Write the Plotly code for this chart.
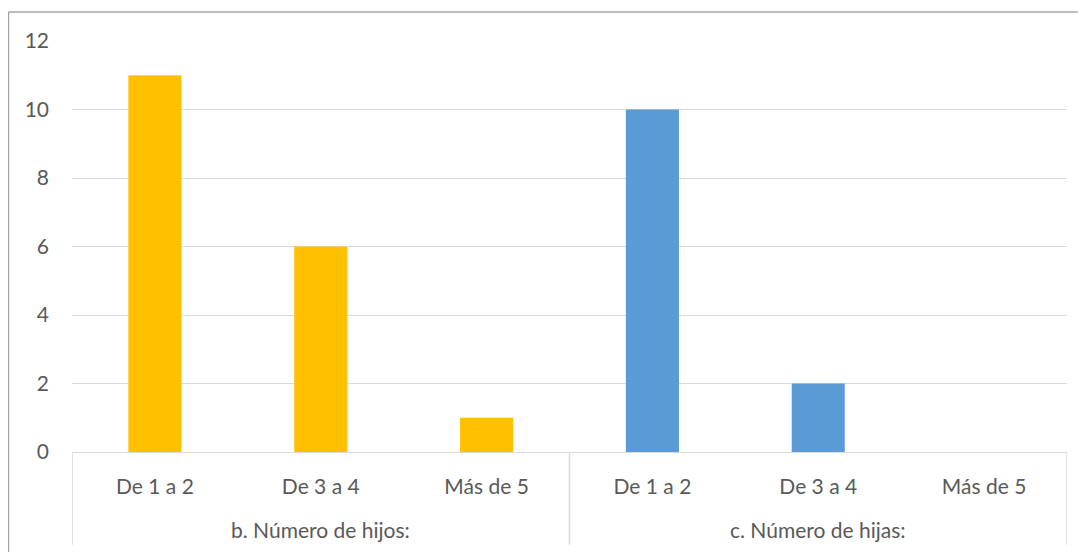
import plotly.graph_objects as go

categories = ["De 1 a 2", "De 3 a 4", "Más de 5"]
groups = ["b. Número de hijos:", "c. Número de hijas:"]
hijos = [11, 6, 1]
hijas = [10, 2, 0]
y_ticks = [0, 2, 4, 6, 8, 10, 12]

# page has an 8px body margin; work in reference-pixel coordinates
OFF = 8
W, H = 1086 - OFF, 552 - OFF
L, R, T, B = 72 - OFF, 19, 40.5 - OFF, 100
pw, ph = W - L - R, H - T - B

def px_x(px):
    return (px - OFF - L) / pw

def px_y(py):
    return (H - B - (py - OFF)) / ph

text_color = "#595959"
font_family = "Lato, 'Open Sans', sans-serif"

x_hijos = [0, 1, 2]
x_hijas = [3, 4, 5]

fig = go.Figure()
fig.add_trace(go.Bar(x=x_hijos, y=hijos, width=0.32, marker_color="#FFC000",
                     marker_line_width=0, showlegend=False))
fig.add_trace(go.Bar(x=x_hijas, y=hijas, width=0.32, marker_color="#5B9BD5",
                     marker_line_width=0, showlegend=False))

fig.update_layout(
    width=W, height=H,
    margin=dict(l=L, r=R, t=T, b=B),
    paper_bgcolor="white", plot_bgcolor="white",
    barmode="overlay",
    font=dict(family=font_family, size=21, color=text_color),
    xaxis=dict(
        range=[-0.5, 5.5], tickmode="array", tickvals=x_hijos + x_hijas,
        ticktext=categories + categories, showgrid=False, zeroline=False,
        showline=True, linecolor="#D9D9D9", linewidth=1, ticks="",
        ticklabelstandoff=16,
        tickfont=dict(family=font_family, size=21, color=text_color),
    ),
    yaxis=dict(
        range=[0, 12], tickmode="array", tickvals=y_ticks,
        showgrid=True, gridcolor="#D9D9D9", gridwidth=1, zeroline=False,
        showline=False, ticks="", ticklabelstandoff=22,
        tickfont=dict(family=font_family, size=21, color=text_color),
    ),
)

# group labels
for i, g in enumerate(groups):
    fig.add_annotation(x=i * 3 + 1, y=px_y(530), xref="x", yref="paper",
                       text=g, showarrow=False, yanchor="middle",
                       font=dict(family=font_family, size=21, color=text_color))

# group dividers
for xv in [-0.5, 2.5, 5.5]:
    fig.add_shape(type="line", xref="x", yref="paper", x0=xv, x1=xv,
                  y0=0, y1=px_y(545), line=dict(color="#D9D9D9", width=1.5))

# chart border
fig.add_shape(type="line", xref="paper", yref="paper",
              x0=px_x(8.5), x1=px_x(8.5), y0=px_y(11.5), y1=px_y(560),
              line=dict(color="#A6A6A6", width=1.5))
fig.add_shape(type="line", xref="paper", yref="paper",
              x0=px_x(8.5), x1=px_x(1090), y0=px_y(11.5), y1=px_y(11.5),
              line=dict(color="#A6A6A6", width=1.5))

fig.write_html("out.html")
